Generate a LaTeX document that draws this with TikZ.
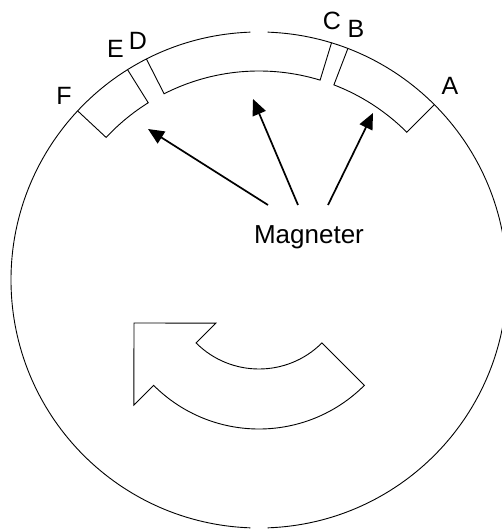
\documentclass[tikz,border=0pt]{standalone}
\usepackage{fontspec}
\setmainfont{Liberation Sans}
\usetikzlibrary{arrows.meta}

\begin{document}
\begin{tikzpicture}[x=1pt, y=1pt, line width=0.9pt,
    >={Triangle[length=16pt, width=14pt]},
    every node/.style={inner sep=0pt, font=\fontsize{25}{30}\selectfont},
    magnet/.style={line width=0.9pt},
    pointer/.style={->, line width=1.7pt}]
  \useasboundingbox (-259,-249) rectangle (243,280);
  % rotor ring, cut at top and bottom
  \draw (92:248) arc[start angle=92, end angle=268, radius=248];
  \draw (-88:248) arc[start angle=-88, end angle=88, radius=248];
  % magnets
  \draw[magnet] (45:248) -- (45:209) arc[start angle=45, end angle=69, radius=209] -- (69:248);
  \draw[magnet] (73:248) -- (73:209) arc[start angle=73, end angle=117, radius=209] -- (117:248);
  \draw[magnet] (122:248) -- (122:209) arc[start angle=122, end angle=137, radius=209] -- (137:248);
  % edge labels
  \node (lA) at (191,194) {A};
  \node (lB) at (97,251) {B};
  \node (lC) at (73,259) {C};
  \node (lD) at (-121,239) {D};
  \node (lE) at (-143.5,231.5) {E};
  \node (lF) at (-195,184) {F};
  % Magneter + pointers
  \node[anchor=base, font=\fontsize{26}{31}\selectfont] (mag) at (50,36) {Magneter};
  \coordinate (s1) at (9,75);
  \coordinate (s2) at (39,75);
  \coordinate (s3) at (69,75);
  \coordinate (m1) at (-111,151);
  \coordinate (m2) at (-6,181);
  \coordinate (m3) at (114,167);
  \draw[pointer] (s1) -- (m1);
  \draw[pointer] (s2) -- (m2);
  \draw[pointer] (s3) -- (m3);
  % rotation arrow
  \draw (315:149) -- (315:89) arc[start angle=315, end angle=225, radius=89]
    -- (225:61) -- (-125,-43) -- (225:177) -- (225:149)
    arc[start angle=225, end angle=315, radius=149] -- cycle;
\end{tikzpicture}
\end{document}
